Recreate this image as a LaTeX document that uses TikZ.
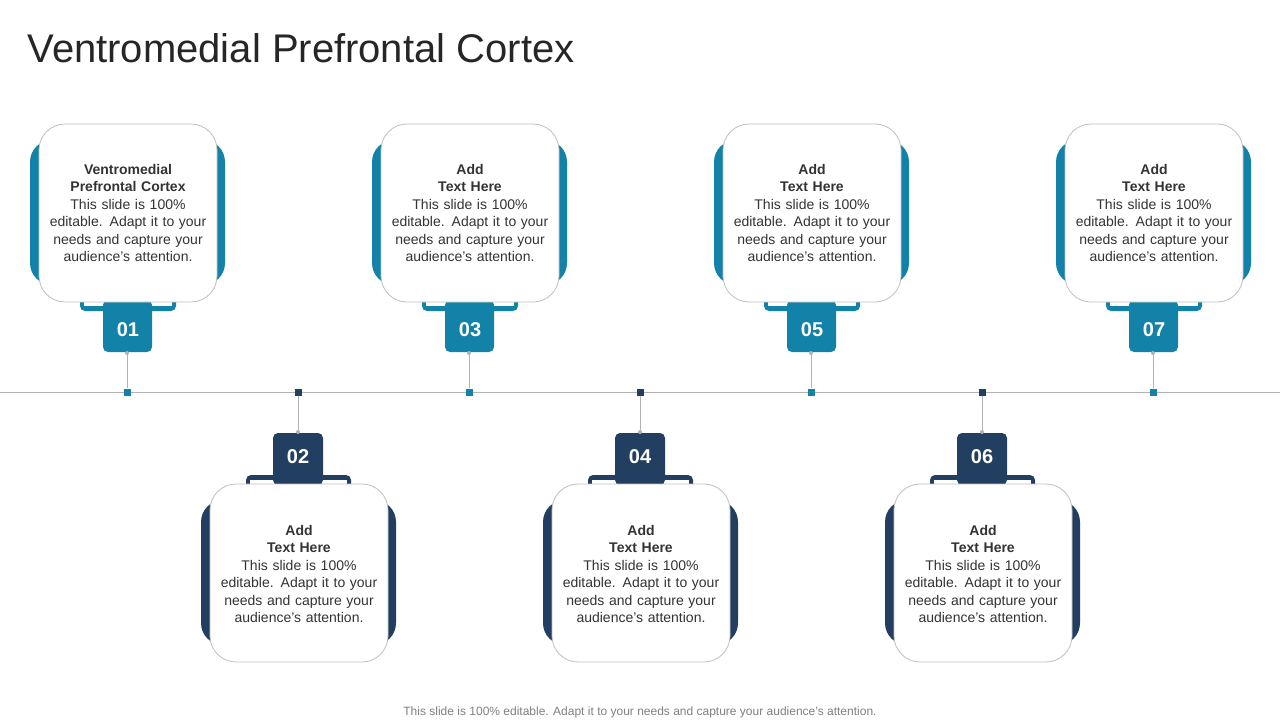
\documentclass[tikz,border=0pt]{standalone}
\usepackage{fontspec}
\setmainfont{Liberation Sans}
\definecolor{teal1}{HTML}{1282A8}
\definecolor{navy1}{HTML}{223F61}
\definecolor{txt}{HTML}{333333}
\begin{document}
\begin{tikzpicture}[x=1pt,y=-1pt,
  card/.style={draw=black!25,line width=0.8pt,fill=white,rounded corners=26pt},
  body/.style={align=center,text width=170pt,font=\fontsize{14}{17.5}\selectfont,text=txt},
  num/.style={text=white,font=\bfseries\fontsize{20}{20}\selectfont},
  conn/.style={draw=black!30,line width=0.8pt},
  dot/.style={minimum size=7pt,inner sep=0pt}]
\useasboundingbox (0,0) rectangle (1280,720);
\fill[white] (0,0) rectangle (1280,720);
\node[anchor=west,font=\fontsize{40}{40}\selectfont,text=black!85] (title) at (24,48) {Ventromedial Prefrontal Cortex};
\draw[conn] (0,392) -- (1280,392);
% top items
\foreach \c/\n/\t [count=\i] in {127/01/{Ventromedial\\Prefrontal Cortex},469/03/{Add\\Text Here},811/05/{Add\\Text Here},1153/07/{Add\\Text Here}}{
  \fill[teal1,rounded corners=22pt] (\c-97,140) rectangle (\c+98,285);
  \fill[teal1,rounded corners=5pt] (\c-47,280) rectangle (\c+49,311);
  \fill[white] (\c-43,280) rectangle (\c+45,306);
  \fill[teal1,rounded corners=5pt] (\c-24,300) rectangle (\c+25,352);
  \fill[teal1] (\c-24,306) rectangle (\c+25,320);
  \draw[card] (\c-88,124) rectangle (\c+90,302);
  \node[num] (n\i) at (\c+1,330) {\n};
  \node[body] (b\i) at (\c+1,213) {\textbf{\t}\\This slide is 100\% editable. Adapt it to your needs and capture your audience's attention.};
  \node[dot,fill=teal1] (d\i) at (\c,392) {};
  \coordinate (t\i) at (\c,353);
  \fill[black!30] (t\i) circle (2pt);
  \draw[conn] (t\i) -- (d\i);
}
% bottom items
\foreach \c/\n [count=\i] in {298/02,640/04,982/06}{
  \fill[navy1,rounded corners=22pt] (\c-97,500) rectangle (\c+98,645);
  \fill[navy1,rounded corners=5pt] (\c-52,475) rectangle (\c+53,505);
  \fill[white] (\c-48,480) rectangle (\c+49,505);
  \fill[navy1,rounded corners=5pt] (\c-25,433) rectangle (\c+25,485);
  \fill[navy1] (\c-25,470) rectangle (\c+25,480);
  \draw[card] (\c-88,484) rectangle (\c+90,662);
  \node[num] (m\i) at (\c,457) {\n};
  \node[body] (c\i) at (\c+1,574) {\textbf{Add\\Text Here}\\This slide is 100\% editable. Adapt it to your needs and capture your audience's attention.};
  \node[dot,fill=navy1] (e\i) at (\c,392) {};
  \coordinate (s\i) at (\c,432);
  \fill[black!30] (s\i) circle (2pt);
  \draw[conn] (e\i) -- (s\i);
}
\node[font=\fontsize{12}{12}\selectfont,text=black!50] (foot) at (640,712) {This slide is 100\% editable. Adapt it to your needs and capture your audience's attention.};
\end{tikzpicture}
\end{document}
